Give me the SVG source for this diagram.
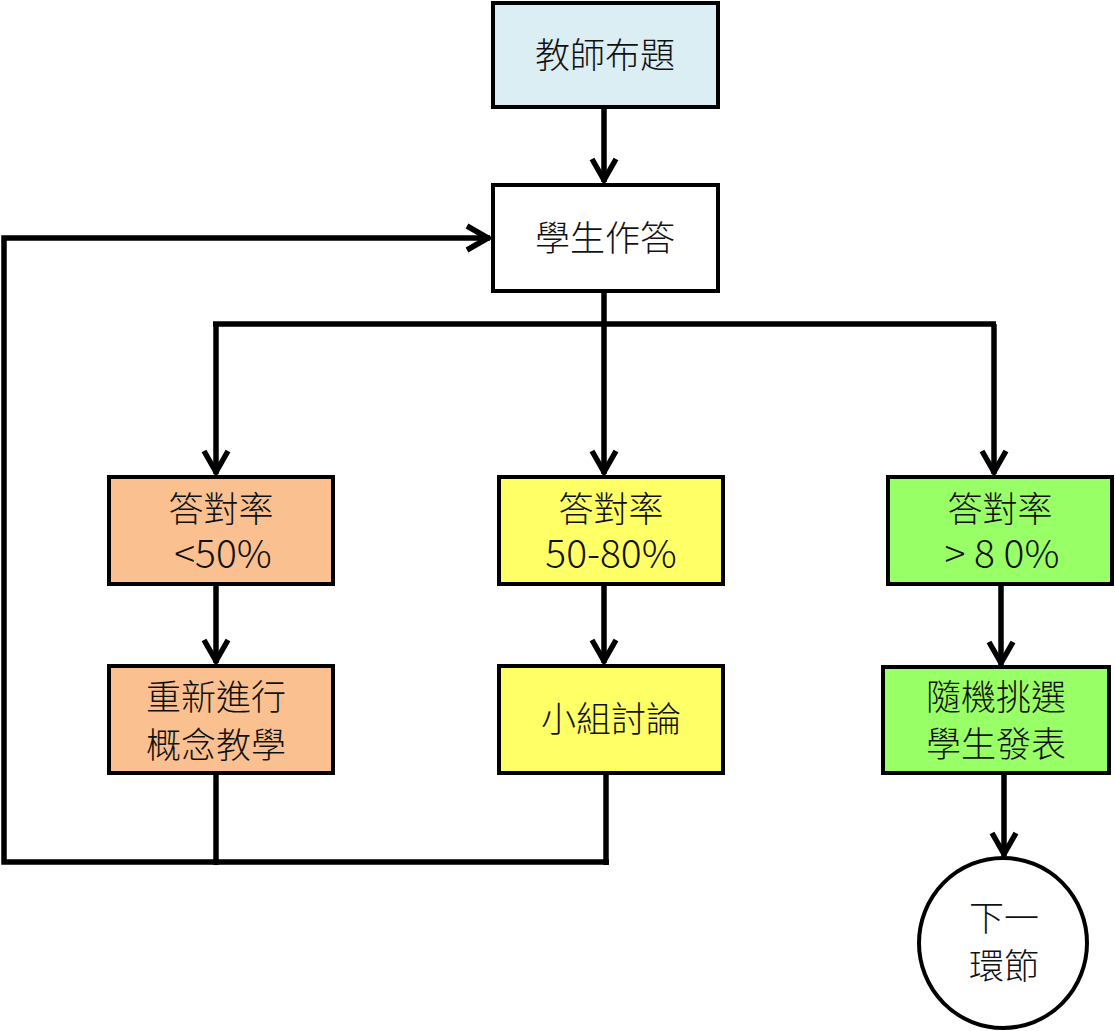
<svg xmlns="http://www.w3.org/2000/svg" width="1115" height="1031" viewBox="0 0 1115 1031">
<style>
.box{stroke:#000;stroke-width:4}
.t{font-family:"Noto Sans CJK TC","Noto Sans CJK SC",sans-serif;font-size:35px;font-weight:300;fill:#111;text-anchor:middle;dominant-baseline:central}
.n{font-size:39px}
.c{fill:none;stroke:#000;stroke-width:5.5}
</style>
<defs>
<marker id="ah" markerUnits="userSpaceOnUse" viewBox="-28 -17 32 34" refX="0" refY="0" markerWidth="32" markerHeight="34" orient="auto-start-reverse">
<path d="M-23,-12 L-2,0 L-23,12" fill="none" stroke="#000" stroke-width="5.5"/>
</marker>
</defs>
<g id="connectors">
<path class="c" d="M604,107 V182" marker-end="url(#ah)"/>
<path class="c" d="M604,291 V474" marker-end="url(#ah)"/>
<path class="c" d="M213,324 H996"/>
<path class="c" d="M216,324 V474" marker-end="url(#ah)"/>
<path class="c" d="M994,324 V474" marker-end="url(#ah)"/>
<path class="c" d="M216,584 V663" marker-end="url(#ah)"/>
<path class="c" d="M604,584 V663" marker-end="url(#ah)"/>
<path class="c" d="M1001,584 V665" marker-end="url(#ah)"/>
<path class="c" d="M1004,773 V856" marker-end="url(#ah)"/>
<path class="c" d="M216,773 V865"/>
<path class="c" d="M606,773 V865"/>
<path class="c" d="M609,862 H4 V238 H490" marker-end="url(#ah)"/>
</g>
<g id="n1"><rect class="box" x="493" y="3" width="225" height="104" fill="#DBEEF4"/><text class="t" x="605" y="52">教師布題</text></g>
<g id="n2"><rect class="box" x="493" y="185" width="225" height="106" fill="#FFFFFF"/><text class="t" x="605" y="235">學生作答</text></g>
<g id="n3"><rect class="box" x="109" y="477" width="224" height="107" fill="#FAC090"/><text class="t" x="221" y="506">答對率</text><text class="t n" x="223" y="551">&lt;50%</text></g>
<g id="n4"><rect class="box" x="499" y="477" width="224" height="107" fill="#FFFF66"/><text class="t" x="611" y="506">答對率</text><text class="t n" x="611" y="551">50-80%</text></g>
<g id="n5"><rect class="box" x="888" y="477" width="224" height="107" fill="#99FF66"/><text class="t" x="1000" y="506">答對率</text><text class="t n" x="1002" y="551">&gt; 8 0%</text></g>
<g id="n6"><rect class="box" x="109" y="666" width="224" height="107" fill="#FAC090"/><text class="t" x="216" y="694">重新進行</text><text class="t" x="216" y="742">概念教學</text></g>
<g id="n7"><rect class="box" x="499" y="666" width="224" height="107" fill="#FFFF66"/><text class="t" x="611" y="716">小組討論</text></g>
<g id="n8"><rect class="box" x="883" y="667" width="226" height="106" fill="#99FF66"/><text class="t" x="996" y="694">隨機挑選</text><text class="t" x="996" y="741">學生發表</text></g>
<g id="n9"><ellipse class="box" cx="1003" cy="943" rx="84" ry="85" fill="#FFFFFF"/><text class="t" x="1004" y="915">下一</text><text class="t" x="1004" y="963">環節</text></g>
</svg>
